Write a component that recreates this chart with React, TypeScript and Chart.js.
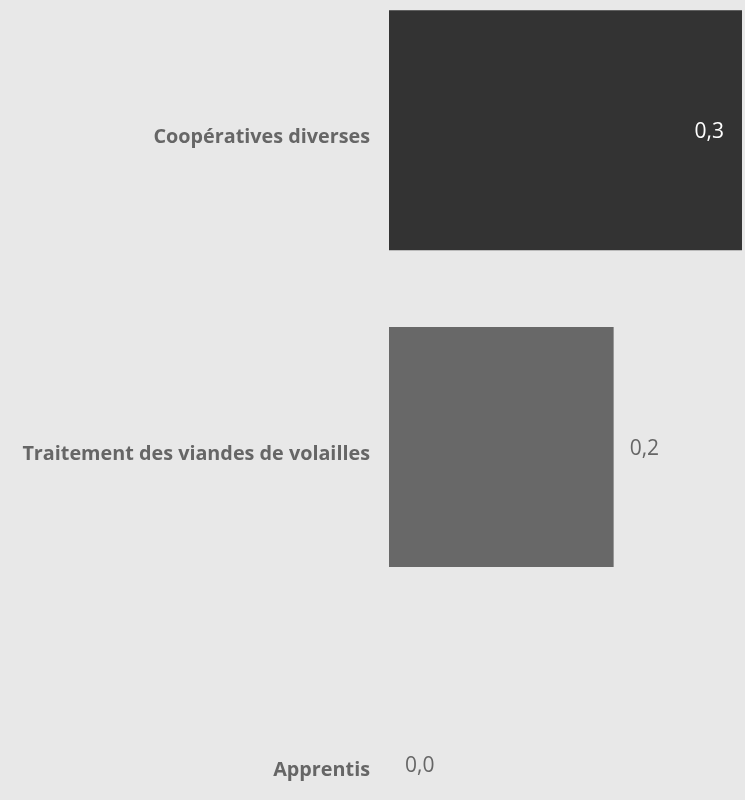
import React, { useEffect, useRef } from "react";
import { Chart, registerables } from "chart.js";

Chart.register(...registerables);

const categories = ["Coopératives diverses", "Traitement des viandes de volailles", "Apprentis"];
const values = [0.33, 0.21, 0.0];
const barColors = ["#333333", "#686868", "#9a9a9a"];
const xMax = 0.3328;

const FONT = "'Open Sans', 'DejaVu Sans', sans-serif";

const valueLabels = {
  id: "valueLabels",
  afterDatasetsDraw(chart: any) {
    const ctx = chart.ctx;
    const meta = chart.getDatasetMeta(0);
    const area = chart.chartArea;
    ctx.save();
    ctx.font = `400 21px ${FONT}`;
    ctx.textBaseline = "middle";
    meta.data.forEach((bar: any, i: number) => {
      const v = values[i];
      const text = v.toFixed(1).replace(".", ",");
      const w = ctx.measureText(text).width;
      const pad = 16;
      const y = bar.y + 2;
      if (bar.x + pad + w > area.right) {
        ctx.fillStyle = "#ffffff";
        ctx.textAlign = "right";
        ctx.fillText(text, bar.x - 18, y);
      } else {
        ctx.fillStyle = "#666666";
        ctx.textAlign = "left";
        ctx.fillText(text, bar.x + pad, y);
      }
    });
    ctx.restore();
  },
};

export default function App() {
  const ref = useRef<HTMLCanvasElement | null>(null);
  useEffect(() => {
    if (!ref.current) return;
    const chart = new Chart(ref.current, {
      type: "bar",
      data: {
        labels: categories,
        datasets: [
          {
            data: values,
            backgroundColor: barColors,
            borderWidth: 0,
            barPercentage: 0.758,
            categoryPercentage: 1,
          },
        ],
      },
      options: {
        indexAxis: "y",
        animation: false,
        responsive: false,
        layout: { padding: 0 },
        plugins: { legend: { display: false }, tooltip: { enabled: false } },
        scales: {
          x: { display: false, min: 0, max: xMax },
          y: {
            grid: { display: false, drawTicks: false },
            border: { display: false },
            ticks: {
              color: "#666666",
              padding: 19,
              labelOffset: 7,
              font: { family: FONT, size: 19.8, weight: "bold" },
            },
            afterFit(scale: any) {
              scale.width = 389;
              scale.paddingTop = 0;
              scale.paddingBottom = 0;
            },
          },
        },
      },
      plugins: [valueLabels],
    });
    return () => chart.destroy();
  }, []);
  return (
    <div
      style={{
        position: "fixed",
        left: 0,
        top: 0,
        width: 745,
        height: 800,
        overflow: "hidden",
        background: "#e8e8e8",
      }}
    >
      <div style={{ position: "absolute", left: 0, top: -28, width: 745, height: 950 }}>
        <canvas ref={ref} width={745} height={950} style={{ display: "block" }} />
      </div>
    </div>
  );
}
